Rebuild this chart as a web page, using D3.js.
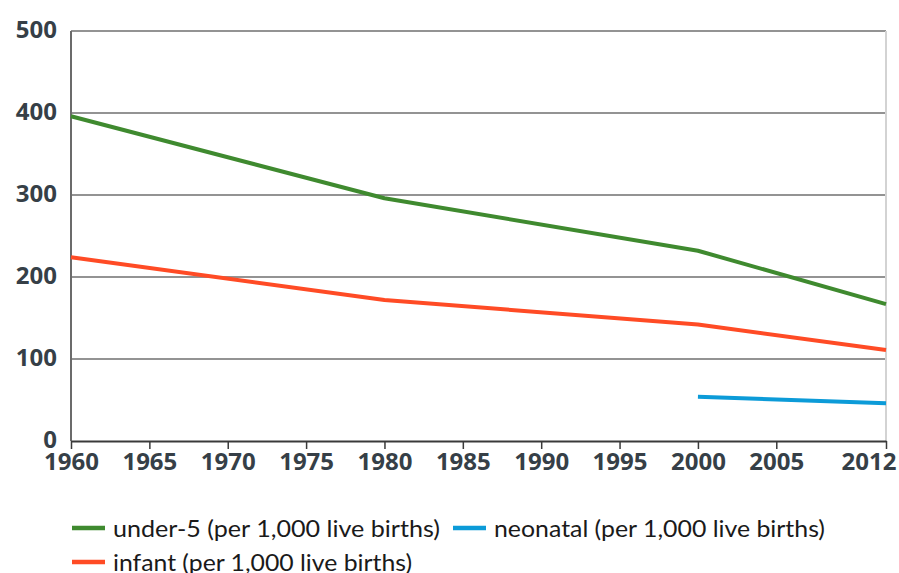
<!DOCTYPE html>
<html>
<head>
<meta charset="utf-8">
<script src="https://cdn.jsdelivr.net/npm/d3@7"></script>
<style>
  html, body { margin: 0; padding: 0; background: #fff; }
  svg { display: block; }
</style>
</head>
<body>
<svg id="chart" width="899" height="573"></svg>
<script>
// ---- data ----
const under5Years = [1960, 1980, 2000, 2012];
const under5Values = [396, 296, 232, 167];
const infantYears = [1960, 1980, 2000, 2012];
const infantValues = [224, 172, 142, 111];
const neonatalYears = [2000, 2012];
const neonatalValues = [54, 46];
const xTickValues = [1960, 1965, 1970, 1975, 1980, 1985, 1990, 1995, 2000, 2005, 2012];
const yTickValues = [0, 100, 200, 300, 400, 500];
const seriesNames = ["under-5 (per 1,000 live births)", "neonatal (per 1,000 live births)", "infant (per 1,000 live births)"];

const colors = { under5: "#3f8a2f", infant: "#ff4b25", neonatal: "#0c9bd8" };
const textColor = "#363f47";

const svg = d3.select("#chart");
const margin = { left: 71, right: 13, top: 31, bottom: 132 };
const W = 899, H = 573;
const x = d3.scaleLinear().domain([1960, 2012]).range([margin.left, W - margin.right]);
const y = d3.scaleLinear().domain([0, 500]).range([H - margin.bottom, margin.top]);

// gridlines
svg.append("g").selectAll("line").data(yTickValues.filter(d => d > 0)).join("line")
  .attr("x1", margin.left).attr("x2", W - margin.right)
  .attr("y1", d => y(d)).attr("y2", d => y(d))
  .attr("stroke", "#939393").attr("stroke-width", 2);

// right border
svg.append("line")
  .attr("x1", W - margin.right).attr("x2", W - margin.right)
  .attr("y1", y(500)).attr("y2", y(0))
  .attr("stroke", "#d3d3d3").attr("stroke-width", 2);

// left axis line
svg.append("line")
  .attr("x1", margin.left).attr("x2", margin.left)
  .attr("y1", y(500)).attr("y2", y(0))
  .attr("stroke", "#6b6b6b").attr("stroke-width", 2);

// x axis
const xAxis = d3.axisBottom(x).tickValues(xTickValues).tickFormat(d3.format("d")).tickSize(8).tickSizeOuter(0);
const gx = svg.append("g").attr("transform", `translate(0,${y(0)})`).call(xAxis);
gx.select(".domain").attr("stroke", "#3a3a3a").attr("stroke-width", 2);
gx.selectAll(".tick line").attr("stroke", "#3a3a3a").attr("stroke-width", 1.5);
gx.selectAll(".tick text")
  .attr("fill", textColor).attr("font-family", "'Open Sans', sans-serif")
  .attr("font-weight", 700).attr("font-size", 24).attr("y", 12).attr("dy", "0.71em");
gx.selectAll(".tick text").filter(d => d === 2012)
  .attr("text-anchor", "end").attr("x", 10);

// y axis labels
const yAxis = d3.axisLeft(y).tickValues(yTickValues).tickSize(0).tickPadding(14);
const gy = svg.append("g").attr("transform", `translate(${margin.left},0)`).call(yAxis);
gy.select(".domain").remove();
gy.selectAll(".tick text")
  .attr("fill", textColor).attr("font-family", "'Open Sans', sans-serif")
  .attr("font-weight", 700).attr("font-size", 24).attr("dy", "0.25em");

// lines
const line = d3.line().x(d => x(d[0])).y(d => y(d[1]));
function drawSeries(years, values, color) {
  svg.append("path")
    .datum(years.map((yr, i) => [yr, values[i]]))
    .attr("d", line).attr("fill", "none")
    .attr("stroke", color).attr("stroke-width", 4)
    .attr("stroke-linejoin", "round");
}
drawSeries(under5Years, under5Values, colors.under5);
drawSeries(infantYears, infantValues, colors.infant);
drawSeries(neonatalYears, neonatalValues, colors.neonatal);

// legend
const legendItems = [
  { name: seriesNames[0], color: colors.under5, lx: 72, ly: 528, w: 327 },
  { name: seriesNames[1], color: colors.neonatal, lx: 453, ly: 528, w: 331 },
  { name: seriesNames[2], color: colors.infant, lx: 72, ly: 562, w: 299 }
];
const lg = svg.append("g");
legendItems.forEach(it => {
  lg.append("line").attr("x1", it.lx).attr("x2", it.lx + 33)
    .attr("y1", it.ly).attr("y2", it.ly)
    .attr("stroke", it.color).attr("stroke-width", 4.5);
  lg.append("text").attr("x", it.lx + 41).attr("y", it.ly + 9)
    .attr("fill", "#1a1a1a").attr("font-family", "Lato, 'Open Sans', sans-serif")
    .attr("font-size", 23)
    .attr("textLength", it.w).attr("lengthAdjust", "spacingAndGlyphs")
    .text(it.name);
});
</script>
</body>
</html>
